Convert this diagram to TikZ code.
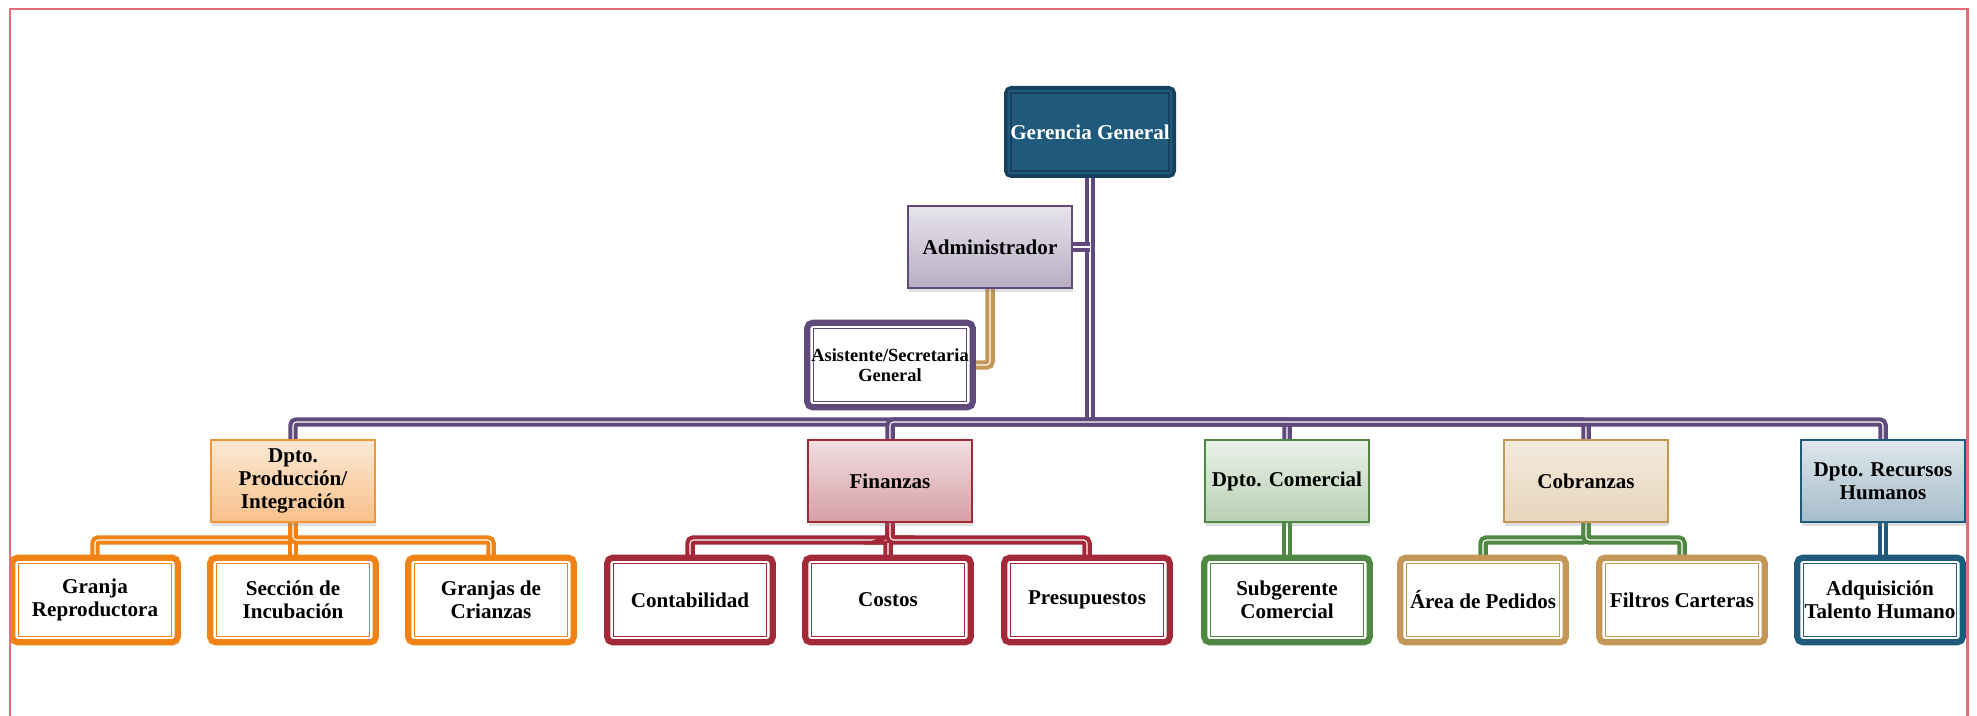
\documentclass[tikz,border=0pt]{standalone}
\usepackage{fontspec}
\setmainfont{Liberation Serif}
\usepackage{tikz}
\usetikzlibrary{shadows,backgrounds}

\definecolor{morado}{RGB}{96,74,123}
\definecolor{oro}{RGB}{196,150,88}
\definecolor{naranja}{RGB}{240,130,22}
\definecolor{rojo}{RGB}{163,41,56}
\definecolor{verde}{RGB}{79,136,66}
\definecolor{azul}{RGB}{31,89,124}
\definecolor{azuloscuro}{RGB}{22,64,92}
\definecolor{marcorojo}{RGB}{225,110,120}

\begin{document}
\begin{tikzpicture}[x=0.02cm, y=-0.02cm,
  every node/.style={font=\bfseries\fontsize{12}{13}\selectfont, align=center, inner sep=1pt, outer sep=0pt},
  jefe/.style={draw=azuloscuro, fill=azul, text=white, line width=2pt, rounded corners=3pt,
    minimum width=3.37cm, minimum height=1.77cm,
    path picture={\draw[azuloscuro, line width=0.8pt, sharp corners]
      ([shift={(3pt,-3pt)}]path picture bounding box.north west) rectangle
      ([shift={(-3pt,3pt)}]path picture bounding box.south east);}},
  dpto/.style n args={3}{draw=#1, line width=1.2pt, top color=#2, bottom color=#3,
    minimum width=3.28cm, minimum height=1.64cm,
    drop shadow={shadow xshift=0.5pt, shadow yshift=-2.5pt, opacity=0.25}},
  unidad/.style={draw=#1, fill=white, line width=3.5pt, rounded corners=3pt,
    minimum width=3.31cm, minimum height=1.69cm,
    path picture={\draw[#1, line width=0.6pt, sharp corners]
      ([shift={(3.5pt,-3.5pt)}]path picture bounding box.north west) rectangle
      ([shift={(-3.5pt,3.5pt)}]path picture bounding box.south east);}},
  enlace/.style={draw=#1, line width=2.4pt, double=white, double distance=0.6pt, rounded corners=2pt}]
\useasboundingbox (0,0) rectangle (1977,716);

\node[jefe] (ger) at (1090,132) {Gerencia General};
\node[dpto={morado}{morado!15}{morado!45}] (adm) at (990,247) {Administrador};
\node[unidad=morado, font=\bfseries\fontsize{10.5}{11.5}\selectfont] (asis) at (890,365) {Asistente/Secretaria\\General};

\node[dpto={naranja!85}{naranja!18}{naranja!50}] (prod) at (293,481) {Dpto.\\Producción/\\Integración};
\node[dpto={rojo}{rojo!15}{rojo!45}] (fin) at (890,481) {Finanzas};
\node[dpto={verde}{verde!12}{verde!40}] (com) at (1287,481) {Dpto. Comercial};
\node[dpto={oro}{oro!20}{oro!40}] (cob) at (1586,481) {Cobranzas};
\node[dpto={azul}{azul!15}{azul!40}] (rh) at (1883,481) {Dpto. Recursos\\Humanos};

\node[unidad=naranja] (granja) at (95,600) {Granja\\Reproductora};
\node[unidad=naranja] (secc) at (293,600) {Sección de\\Incubación};
\node[unidad=naranja] (cria) at (491,600) {Granjas de\\Crianzas};
\node[unidad=rojo] (conta) at (690,600) {Contabilidad};
\node[unidad=rojo] (costos) at (888,600) {Costos};
\node[unidad=rojo] (presu) at (1087,600) {Presupuestos};
\node[unidad=verde] (subg) at (1287,600) {Subgerente\\Comercial};
\node[unidad=oro] (pedidos) at (1483,600) {Área de Pedidos};
\node[unidad=oro] (filtros) at (1682,600) {Filtros Carteras};
\node[unidad=azul] (adq) at (1880,600) {Adquisición\\Talento Humano};

\coordinate (bus) at (1090,422);
\begin{scope}[on background layer]
\draw[enlace=morado] (ger.south) -- (bus);
\foreach \d in {prod,fin,com,cob,rh}
  \draw[enlace=morado] (bus) -| (\d.north);
\draw[enlace=morado] (adm.east) -- (adm.east -| ger.south);
\draw[enlace=oro] (adm.south) |- (asis.east);
\foreach \h in {granja,secc,cria}
  \draw[enlace=naranja] (prod.south) -- ++(0,18) -| (\h.north);
\foreach \h in {conta,costos,presu}
  \draw[enlace=rojo] (fin.south) -- ++(0,18) -| (\h.north);
\draw[enlace=verde] (com.south) -- (subg.north);
\foreach \h in {pedidos,filtros}
  \draw[enlace=verde] (cob.south) -- ++(0,18) -| (\h.north);
\draw[enlace=azul] (rh.south) -- (rh.south |- adq.north);
\end{scope}

\draw[marcorojo, line width=1.7pt] (10,716) |- (1967,9) -- (1967,716);
\end{tikzpicture}
\end{document}
